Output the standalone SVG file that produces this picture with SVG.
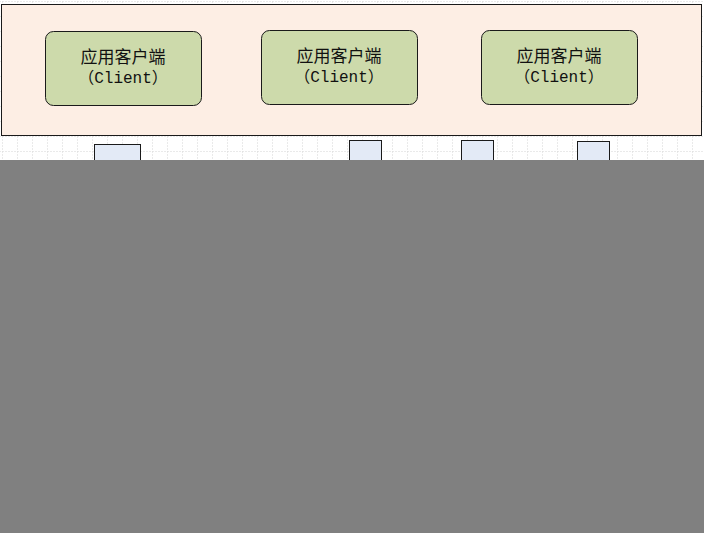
<svg xmlns="http://www.w3.org/2000/svg" width="704" height="533" viewBox="0 0 704 533">
  <defs>
    <pattern id="grid" width="15" height="15" patternUnits="userSpaceOnUse" x="2" y="1">
      <path d="M0 0V15M0 0H15" fill="none" stroke="#d6d6d6" stroke-width="1" stroke-dasharray="2,1"/>
    </pattern>
  </defs>
  <style>
    .panel { fill: #fdeee4; stroke: #1a1a1a; stroke-width: 1; }
    .client { fill: #cddaab; stroke: #1a1a1a; stroke-width: 1; }
    .small { fill: #e3eaf6; stroke: #1a1a1a; stroke-width: 1; }
    .t1 { font-family: "Noto Sans CJK SC", sans-serif; font-size: 17px; fill: #111; text-anchor: middle; }
    .t2 { font-family: "Liberation Mono", "Noto Sans CJK SC", monospace; font-size: 16px; fill: #111; text-anchor: middle; }
  </style>
  <rect x="0" y="0" width="704" height="533" fill="#ffffff"/>
  <rect x="0" y="0" width="704" height="160" fill="url(#grid)"/>
  <g id="panel">
    <rect class="panel" x="1.5" y="4.5" width="700" height="131"/>
  </g>
  <g id="client1">
    <rect class="client" x="45.5" y="31.5" width="156" height="74" rx="8"/>
    <text class="t1" x="123" y="63">应用客户端</text>
    <text class="t2" x="123" y="83">（Client）</text>
  </g>
  <g id="client2">
    <rect class="client" x="261.5" y="30.5" width="156" height="74" rx="8"/>
    <text class="t1" x="339" y="62">应用客户端</text>
    <text class="t2" x="339" y="82">（Client）</text>
  </g>
  <g id="client3">
    <rect class="client" x="481.5" y="30.5" width="156" height="74" rx="8"/>
    <text class="t1" x="559" y="62">应用客户端</text>
    <text class="t2" x="559" y="82">（Client）</text>
  </g>
  <g id="box-a"><rect class="small" x="94.5" y="144.5" width="46" height="30"/></g>
  <g id="box-b"><rect class="small" x="349.5" y="140.5" width="32" height="30"/></g>
  <g id="box-c"><rect class="small" x="461.5" y="140.5" width="32" height="30"/></g>
  <g id="box-d"><rect class="small" x="577.5" y="141.5" width="32" height="30"/></g>
  <g id="connectors"></g>
  <rect x="0" y="160" width="704" height="373" fill="#808080"/>
</svg>
